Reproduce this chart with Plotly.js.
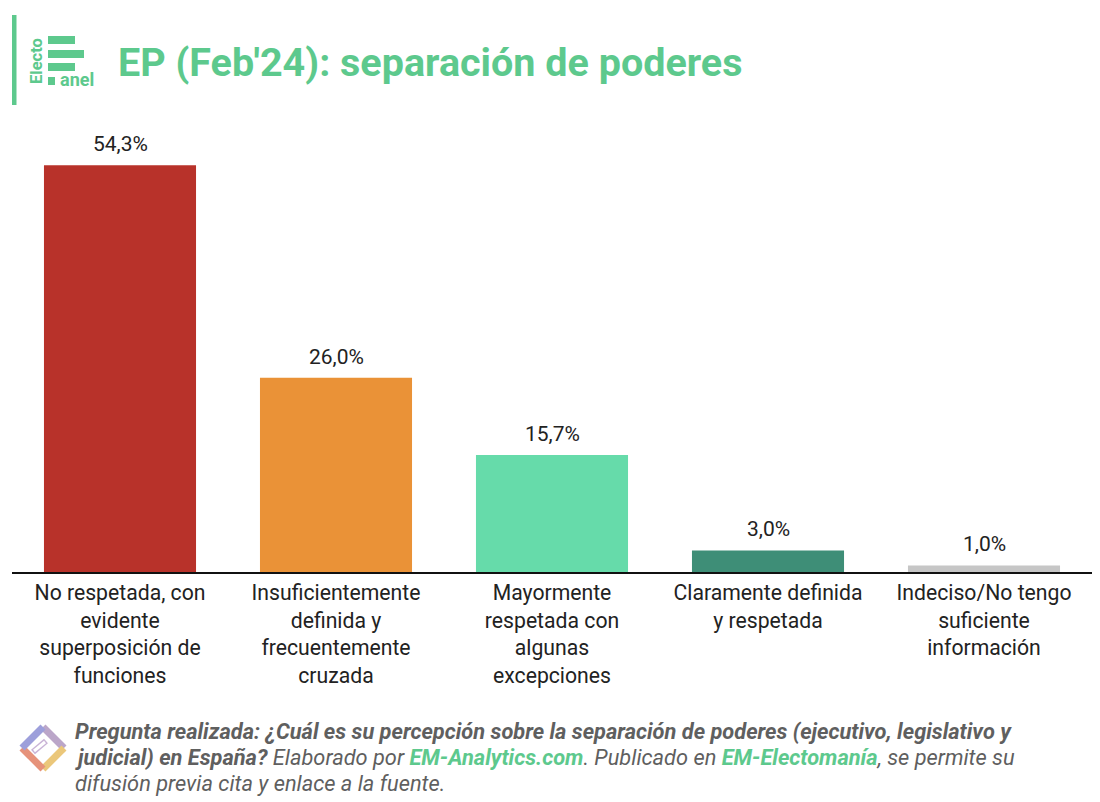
<!DOCTYPE html>
<html>
<head>
<meta charset="utf-8">
<script src="https://cdn.plot.ly/plotly-3.0.1.min.js"></script>
<style>html,body{margin:0;padding:0;background:#fff;}#chart{width:1100px;height:802px;}</style>
</head>
<body>
<div id="chart"></div>
<script>
// Data
const categories = [
  "No respetada, con<br>evidente<br>superposición de<br>funciones",
  "Insuficientemente<br>definida y<br>frecuentemente<br>cruzada",
  "Mayormente<br>respetada con<br>algunas<br>excepciones",
  "Claramente definida<br>y respetada",
  "Indeciso/No tengo<br>suficiente<br>información"
];
const values = [54.3, 26.0, 15.7, 3.0, 1.0];
const barColors = ["#B8322A", "#EA9237", "#66DBAA", "#3E8E77", "#C6C6C6"];

const W = 1100, H = 802;
const L = 12, R = 8, T = 130, B = 229;
const pw = W - L - R, ph = H - T - B;
const px = x => (x - L) / pw;
const py = y => (H - B - y) / ph;

const green = "#5DC98D";
const shapes = [
  // axis baseline
  {type:"line", xref:"paper", yref:"paper", x0:0, x1:1, y0:0, y1:0, line:{color:"#111", width:2}},
  // logo
  {type:"rect", xref:"paper", yref:"paper", x0:px(12), x1:px(16.5), y0:py(105), y1:py(15), fillcolor:green, line:{width:0}},
  {type:"rect", xref:"paper", yref:"paper", x0:px(48), x1:px(75), y0:py(44), y1:py(36), fillcolor:green, line:{width:0}},
  {type:"rect", xref:"paper", yref:"paper", x0:px(48), x1:px(84), y0:py(58), y1:py(50), fillcolor:green, line:{width:0}},
  {type:"rect", xref:"paper", yref:"paper", x0:px(48), x1:px(75), y0:py(71), y1:py(63), fillcolor:green, line:{width:0}},
  {type:"rect", xref:"paper", yref:"paper", x0:px(48), x1:px(55), y0:py(85), y1:py(77), fillcolor:green, line:{width:0}},
];
// footer icon (diamond with gradient-like edges)
const ic = [ [43,727],[64,748],[43,769],[22,748] ];
const edgeCols = ["#BBA6C9","#EBC77A","#E6927A","#9D9FDB"];
for (let i=0;i<4;i++){
  const a = ic[i], b = ic[(i+1)%4];
  shapes.push({type:"line", xref:"paper", yref:"paper", x0:px(a[0]), y0:py(a[1]), x1:px(b[0]), y1:py(b[1]), line:{color:edgeCols[i], width:7}});
}
shapes.push({type:"line", xref:"paper", yref:"paper", x0:px(33), y0:py(752), x1:px(46), y1:py(741), line:{color:"#C9B3D6", width:6}});
shapes.push({type:"line", xref:"paper", yref:"paper", x0:px(34), y0:py(751), x1:px(45), y1:py(742), line:{color:"#ffffff", width:3}});

const annotations = [
  {xref:"paper", yref:"paper", x:px(116), y:py(62), xanchor:"left", yanchor:"middle", showarrow:false,
   text:"<b>EP (Feb'24): separación de poderes</b>", font:{family:"Roboto", size:39.5, color:green}},
  {xref:"paper", yref:"paper", x:px(36), y:py(61), xanchor:"center", yanchor:"middle", showarrow:false, textangle:-90,
   text:"<b>Electo</b>", font:{family:"Roboto", size:16.5, color:green}},
  {xref:"paper", yref:"paper", x:px(58), y:py(80), xanchor:"left", yanchor:"middle", showarrow:false,
   text:"<b>anel</b>", font:{family:"Roboto", size:18, color:green}},
  {xref:"paper", yref:"paper", x:px(73), y:py(731), xanchor:"left", yanchor:"middle", showarrow:false, align:"left",
   text:"<b><i>Pregunta realizada: ¿Cuál es su percepción sobre la separación de poderes (ejecutivo, legislativo y</i></b>",
   font:{family:"Roboto", size:21.8, color:"#5F5F5F"}},
  {xref:"paper", yref:"paper", x:px(73), y:py(757), xanchor:"left", yanchor:"middle", showarrow:false, align:"left",
   text:"<b><i>judicial) en España?</i></b><i> Elaborado por </i><b><i><span style='color:"+green+"'>EM-Analytics.com</span></i></b><i>. Publicado en </i><b><i><span style='color:"+green+"'>EM-Electomanía</span></i></b><i>, se permite su</i>",
   font:{family:"Roboto", size:21.8, color:"#5F5F5F"}},
  {xref:"paper", yref:"paper", x:px(73), y:py(783), xanchor:"left", yanchor:"middle", showarrow:false, align:"left",
   text:"<i>difusión previa cita y enlace a la fuente.</i>",
   font:{family:"Roboto", size:21.8, color:"#5F5F5F"}},
];
values.forEach((v,i)=>{
  annotations.push({x:categories[i], y:v, xref:"x", yref:"y", yanchor:"bottom", yshift:7, showarrow:false,
    text: v.toFixed(1).replace(".", ",") + "%", font:{family:"Roboto", size:21, color:"#222"}});
});

const trace = {
  type:"bar", x:categories, y:values,
  marker:{color:barColors, line:{width:0}},
  hoverinfo:"none"
};

const layout = {
  width:W, height:H,
  margin:{l:L, r:R, t:T, b:B, pad:0},
  paper_bgcolor:"#fff", plot_bgcolor:"#fff",
  bargap:0.296,
  showlegend:false,
  xaxis:{tickfont:{family:"Roboto", size:21.2, color:"#222"}, ticklabelstandoff:5, showline:false, ticks:"", showgrid:false, zeroline:false, fixedrange:true, automargin:false},
  yaxis:{range:[0,59], visible:false, showgrid:false, zeroline:false, fixedrange:true},
  shapes:shapes,
  annotations:annotations,
  font:{family:"Roboto"}
};
Plotly.newPlot("chart", [trace], layout, {displayModeBar:false, staticPlot:true});
</script>
</body>
</html>
